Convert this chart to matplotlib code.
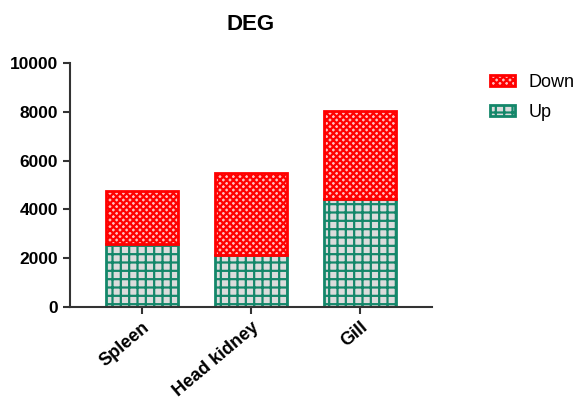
import matplotlib.pyplot as plt
import numpy as np

plt.rcParams['font.family'] = ['Liberation Sans', 'DejaVu Sans']
plt.rcParams['hatch.linewidth'] = 1.6

tissues = ['Spleen', 'Head kidney', 'Gill']
up = [2570, 2150, 4420]
down = [2180, 3350, 3630]

fig = plt.figure(figsize=(5.79, 4.05), dpi=100)
ax = fig.add_axes([0.121, 0.242, 0.625, 0.602])

x = np.arange(len(tissues))
w = 0.66
plt.rcParams['hatch.color'] = '#14876a'
b_up = ax.bar(x, up, w, color='#dcdcdc', edgecolor='#14876a', linewidth=2, hatch='++', label='Up')
b_dn = ax.bar(x, down, w, bottom=up, color='#ffc0c0', edgecolor='red', linewidth=2, hatch='xxxxx', label='Down')
for b in b_dn:
    b._hatch_color = (1, 0, 0, 1)

ax.set_xlim(-0.66, 2.66)
ax.set_ylim(0, 10000)
ax.set_yticks(range(0, 10001, 2000))
ax.set_xticks(x)
ax.set_xticklabels(tissues, rotation=40, ha='right', rotation_mode='anchor', fontweight='bold', fontsize=13)
for t in ax.get_yticklabels():
    t.set_fontweight('bold')
    t.set_fontsize(12.5)
for s in ['top', 'right']:
    ax.spines[s].set_visible(False)
for s in ['left', 'bottom']:
    ax.spines[s].set_linewidth(1.5)
    ax.spines[s].set_color('#333333')
ax.tick_params(width=1.5, length=5, color='#333333')
ax.set_title('DEG', fontweight='bold', fontsize=16, pad=24)

h, l = ax.get_legend_handles_labels()
fig.legend(h[::-1], l[::-1], loc='upper left', bbox_to_anchor=(0.846, 0.818), frameon=False,
           fontsize=13, handlelength=1.4, handleheight=0.55, handletextpad=0.75,
           labelspacing=0.75, borderpad=0, borderaxespad=0)

fig.savefig('out.png', dpi=100)
